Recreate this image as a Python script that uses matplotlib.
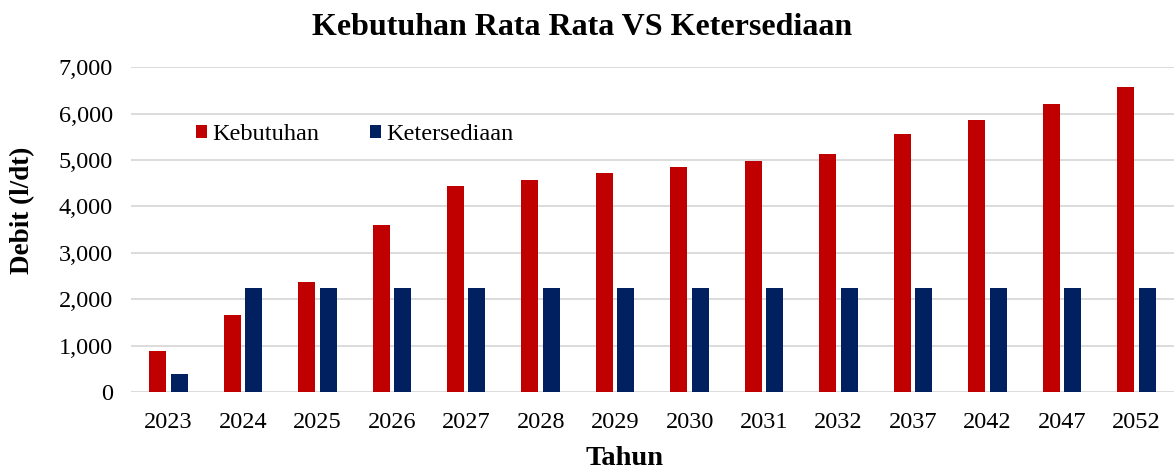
import matplotlib
matplotlib.use("Agg")
import matplotlib.pyplot as plt
import numpy as np
from matplotlib.ticker import FuncFormatter, MultipleLocator

years = ["2023", "2024", "2025", "2026", "2027", "2028", "2029", "2030",
         "2031", "2032", "2037", "2042", "2047", "2052"]
kebutuhan = [880, 1670, 2365, 3610, 4435, 4570, 4710, 4850, 4980, 5138, 5550, 5865, 6206, 6565]
ketersediaan = [380, 2250, 2250, 2250, 2250, 2250, 2250, 2250, 2250, 2250, 2250, 2250, 2250, 2250]

plt.rcParams['font.family'] = ['Liberation Serif', 'DejaVu Serif']

fig = plt.figure(figsize=(11.76, 4.73), dpi=100)
ax = fig.add_axes([0.1115, 0.171, 0.8865, 0.687])

x = np.arange(len(years))
w = 0.228
off = 0.144
ax.bar(x - off, kebutuhan, width=w, color="#C00000", label="Kebutuhan", zorder=3)
ax.bar(x + off, ketersediaan, width=w, color="#002060", label="Ketersediaan", zorder=3)

ax.set_xlim(-0.5, len(years) - 0.5)
ax.set_ylim(0, 7000)
ax.yaxis.set_major_locator(MultipleLocator(1000))
ax.yaxis.set_major_formatter(FuncFormatter(lambda v, p: f"{int(v):,}"))
ax.set_xticks(x)
ax.set_xticklabels(years)
ax.tick_params(axis='both', length=0, labelsize=17.5, colors="#000000")
ax.tick_params(axis='x', pad=14)
ax.tick_params(axis='y', pad=13)
ax.grid(axis='y', color="#D9D9D9", linewidth=1.3, zorder=0)
for s in ax.spines.values():
    s.set_visible(False)

fig.text(0.495, 0.941, "Kebutuhan Rata Rata VS Ketersediaan", fontsize=23,
         fontweight='bold', ha='center', va='center')
fig.text(0.531, 0.03, "Tahun", fontsize=20.5, fontweight='bold', ha='center', va='center')
fig.text(0.0196, 0.556, "Debit (l/dt)", fontsize=19.5, fontweight='bold',
         ha='center', va='center', rotation=90)

leg = ax.legend(loc='center left', bbox_to_anchor=(0.0623, 0.792), ncol=2, frameon=False,
                fontsize=17.5, handlelength=0.45, handleheight=0.45, handletextpad=0.22,
                columnspacing=2.1, borderpad=0, borderaxespad=0)

fig.savefig("out.png", dpi=100)
